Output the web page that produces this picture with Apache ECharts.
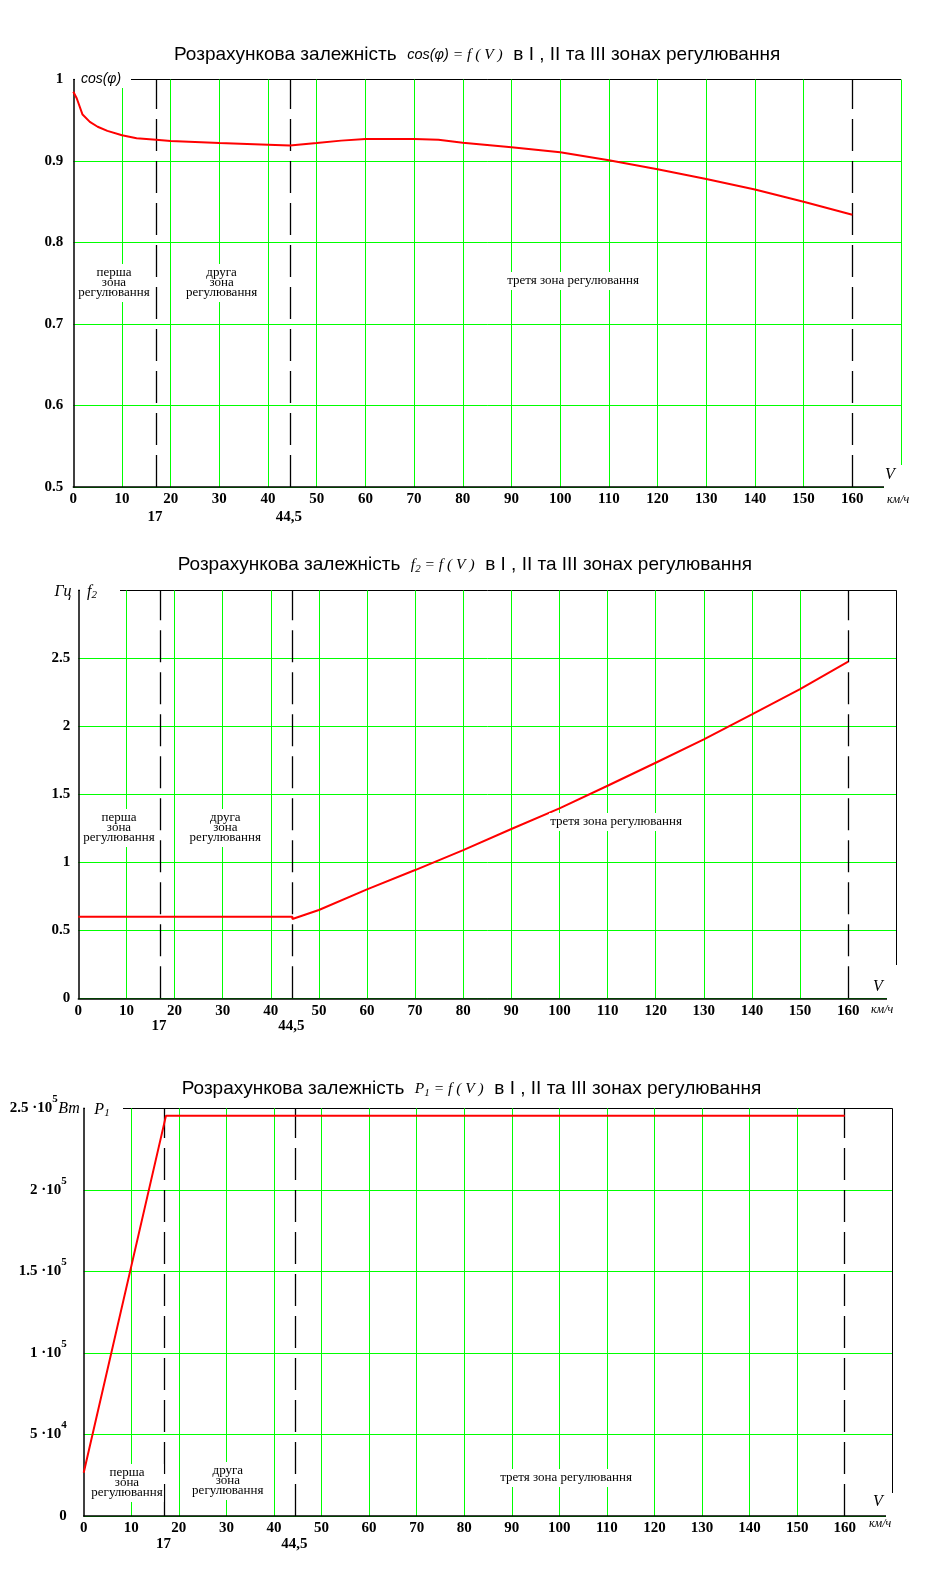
<!DOCTYPE html>
<html><head><meta charset="utf-8">
<script src="https://cdn.jsdelivr.net/npm/echarts@6/dist/echarts.min.js"></script>
<style>html,body{margin:0;padding:0;background:#fff}#c{width:932px;height:1593px}</style>
</head><body><div id="c"></div>
<script>
// ---------- data ----------
const vTicks = [0,10,20,30,40,50,60,70,80,90,100,110,120,130,140,150,160];
const vTickLabels = ['0','10','20','30','40','50','60','70','80','90','100','110','120','130','140','150','160'];
const zoneBounds = [17, 44.5, 160];
const zoneBoundLabels = ['17', '44,5'];
const zoneNames = ['перша\nзона\nрегулювання', 'друга\nзона\nрегулювання', 'третя зона регулювання'];

const cosV   = [0, 0.7, 1.9, 3.4, 5, 7, 10, 13, 17, 20, 30, 40, 44.5, 50, 55, 60, 70, 75, 80, 90, 100, 110, 120, 130, 140, 150, 160];
const cosVal = [0.985, 0.977, 0.957, 0.948, 0.942, 0.937, 0.9315, 0.928, 0.926, 0.9245, 0.922, 0.920, 0.919, 0.922, 0.925, 0.927, 0.927, 0.926, 0.9225, 0.917, 0.9107, 0.901, 0.890, 0.878, 0.865, 0.850, 0.834];
const cosTickLabels = ['0.5','0.6','0.7','0.8','0.9','1'];

const f2V   = [0, 44.5, 44.5, 50, 60, 70, 80, 90, 100, 110, 120, 130, 140, 150, 160];
const f2Val = [0.6, 0.6, 0.583, 0.649, 0.801, 0.943, 1.090, 1.245, 1.397, 1.563, 1.732, 1.904, 2.088, 2.274, 2.475];
const f2TickLabels = ['0','0.5','1','1.5','2','2.5',''];

const p1V   = [0, 17.3, 160];
const p1Val = [26500, 245500, 245500];
const p1TickMant = ['0','5 ·10','1 ·10','1.5 ·10','2 ·10','2.5 ·10'];
const p1TickExp  = ['','4','5','5','5','5'];

// ---------- layout ----------
const G = '#00ff00';
const serif = 'Liberation Serif', sans = 'Liberation Sans';
const grids = [
  {left:73.3, top:79.5, width:827.7, height:407.5},
  {left:78.3, top:590.3, width:818, height:408},
  {left:83.7, top:1108.3, width:808.6, height:407.7}
];
function xSplitColors(last){
  const a=[]; for(let v=0; v<=170; v+=10){ a.push(v===0||v===160?'transparent':(v===170?last:G)); } return a;
}
function xAxis(i, last){
  return {type:'value', gridIndex:i, min:0, max:170, interval:10,
    axisLine:{show:true, onZero:false, lineStyle:{color:'#000', width:1.5}},
    axisTick:{show:false},
    axisLabel:{formatter:v=>{const k=vTicks.indexOf(v); return k<0?'':vTickLabels[k];}, color:'#000', fontFamily:serif, fontWeight:'bold', fontSize:15, margin:5, showMaxLabel:true, showMinLabel:true},
    splitLine:{show:true, lineStyle:{color:xSplitColors(last), width:1}}};
}
const yLabelBase = {color:'#000', fontFamily:serif, fontWeight:'bold', fontSize:15, showMaxLabel:true, showMinLabel:true};
const yAxes = [
  {type:'value', gridIndex:0, min:0.5, max:1, interval:0.1,
   axisLine:{show:true, lineStyle:{color:'#000', width:1.5}}, axisTick:{show:false},
   axisLabel:Object.assign({}, yLabelBase, {margin:10, formatter:v=>cosTickLabels[Math.round((v-0.5)/0.1)]}),
   splitLine:{show:true, lineStyle:{color:[G,G,G,G,G,'#000'], width:1}}},
  {type:'value', gridIndex:1, min:0, max:3, interval:0.5,
   axisLine:{show:true, lineStyle:{color:'#000', width:1.5}}, axisTick:{show:false},
   axisLabel:Object.assign({}, yLabelBase, {margin:8, formatter:v=>f2TickLabels[Math.round(v/0.5)]}),
   splitLine:{show:true, lineStyle:{color:[G,G,G,G,G,G,'#000'], width:1}}},
  {type:'value', gridIndex:2, min:0, max:250000, interval:50000,
   axisLine:{show:true, lineStyle:{color:'#000', width:1.5}}, axisTick:{show:false},
   axisLabel:Object.assign({}, yLabelBase, {margin:4, formatter:v=>{
      const k=Math.round(v/50000);
      let s='{b|'+p1TickMant[k]+'}';
      if(p1TickExp[k]) s+='{sup|'+p1TickExp[k]+'}';
      s += (k===5) ? '{u|Вт}' : '{pad| }';
      return s;},
     rich:{
       b:{fontFamily:serif, fontWeight:'bold', fontSize:15, color:'#000', lineHeight:16},
       sup:{fontFamily:serif, fontWeight:'bold', fontSize:11, color:'#000', lineHeight:10, padding:[0,0,18,0]},
       u:{fontFamily:serif, fontStyle:'italic', fontWeight:'normal', fontSize:16, color:'#000', width:22, align:'right'},
       pad:{width:13}
     }}),
   splitLine:{show:true, lineStyle:{color:[G,G,G,G,G,'#000'], width:1}}}
];
const boundsML = {silent:true, symbol:['none','none'], label:{show:false}, animation:false,
  lineStyle:{color:'#000', type:[32,10], width:1.3}, data: zoneBounds.map(b=>({xAxis:b}))};
function lineSeries(i, xs, ys){
  return {type:'line', xAxisIndex:i, yAxisIndex:i, data:xs.map((x,k)=>[x,ys[k]]), showSymbol:false,
    lineStyle:{color:'#ff0000', width:2}, itemStyle:{color:'#ff0000'}, z:5, markLine:boundsML};
}
const chart = echarts.init(document.getElementById('c'));
chart.setOption({
  animation:false,
  grid: grids,
  xAxis:[xAxis(0,G), xAxis(1,'#000'), xAxis(2,'#000')],
  yAxis: yAxes,
  series:[lineSeries(0,cosV,cosVal), lineSeries(1,f2V,f2Val), lineSeries(2,p1V,p1Val)]
});

// ---------- texts ----------
const gr = [];
const richTitle = {
  a:{fontFamily:sans, fontSize:19, fill:'#000'},
  b:{fontFamily:sans, fontStyle:'italic', fontSize:14.5, fill:'#000'},
  c:{fontFamily:serif, fontStyle:'italic', fontSize:15.5, fill:'#000'},
  sub:{fontFamily:serif, fontStyle:'italic', fontSize:11, fill:'#000', padding:[8,0,0,0]}
};
function txt(x,y,text,opt){ gr.push({type:'text', z:60, style:Object.assign({x:x, y:y, text:text, fill:'#000', align:'center', verticalAlign:'middle'}, opt||{})}); }
function rect(x,y,w,h){ gr.push({type:'rect', z:55, shape:{x:x,y:y,width:w,height:h}, style:{fill:'#fff'}}); }
const tail = '{a|  в I , II та III зонах регулювання}';
txt(174, 55, '{a|Розрахункова залежність  }{b|cos(φ)}{c| = f ( V )}'+tail, {align:'left', rich:richTitle});
txt(177.7, 565, '{a|Розрахункова залежність  }{c|f}{sub|2}{c| = f ( V )}'+tail, {align:'left', rich:richTitle});
txt(181.7, 1089, '{a|Розрахункова залежність  }{c|P}{sub|1}{c| = f ( V )}'+tail, {align:'left', rich:richTitle});

// axis unit labels
rect(75, 70, 56, 18);
txt(101, 79, 'cos(φ)', {fontFamily:sans, fontStyle:'italic', fontSize:14});
rect(80, 585, 40, 10);
txt(63, 592, 'Гц', {fontFamily:serif, fontStyle:'italic', fontSize:16});
txt(92, 592, '{c|f}{s|2}', {rich:{c:{fontFamily:serif, fontStyle:'italic', fontSize:16, fill:'#000'}, s:{fontFamily:serif, fontStyle:'italic', fontSize:11, fill:'#000', padding:[7,0,0,0]}}});
rect(85, 1103, 38, 10);
txt(102, 1110, '{c|P}{s|1}', {rich:{c:{fontFamily:serif, fontStyle:'italic', fontSize:16, fill:'#000'}, s:{fontFamily:serif, fontStyle:'italic', fontSize:11, fill:'#000', padding:[7,0,0,0]}}});

// corner gaps, V and km/h
const corners = [
  {box:[884,465,28,25], V:[890,475], km:[887,500]},
  {box:[887,965,25,36], V:[878,987], km:[871,1010]},
  {box:[886,1493,26,26], V:[878,1502], km:[869,1524]}
];
corners.forEach(c=>{
  rect(c.box[0],c.box[1],c.box[2],c.box[3]);
  txt(c.V[0], c.V[1], 'V', {fontFamily:serif, fontStyle:'italic', fontSize:16});
  txt(c.km[0], c.km[1], 'км/ч', {fontFamily:serif, fontStyle:'italic', fontSize:12, align:'left'});
});

// boundary labels under axis
const bLabelY = [517, 1026, 1544];
[0,1,2].forEach(i=>{
  zoneBoundLabels.forEach((lab,k)=>{
    const p = chart.convertToPixel({gridIndex:i}, [zoneBounds[k], 0]);
    txt(p[0]-1, bLabelY[i], lab, {fontFamily:serif, fontWeight:'bold', fontSize:15});
  });
});

// zone names
const zonePos = [
  [[114,283],[221.6,283],[573,281]],
  [[119,828],[225.3,828],[616,822]],
  [[127,1483],[227.8,1481],[566,1478]]
];
zonePos.forEach(row=>row.forEach((p,k)=>{
  txt(p[0], p[1], zoneNames[k], {fontFamily:serif, fontSize:13, lineHeight:10, backgroundColor:'#fff', padding:[4,1]});
}));

chart.setOption({graphic: gr});
</script></body></html>
